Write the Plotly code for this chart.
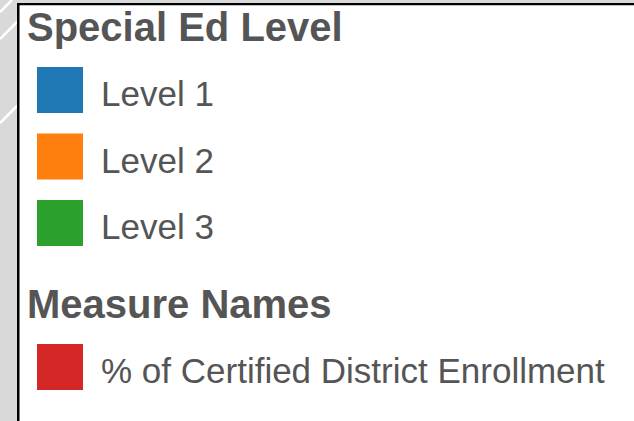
import plotly.graph_objects as go

# ---- legend content ----
legend_titles = ["Special Ed Level", "Measure Names"]
level_names = ["Level 1", "Level 2", "Level 3"]
level_colors = ["#1f77b4", "#ff7f0e", "#2ca02c"]
measure_names = ["% of Certified District Enrollment"]
measure_colors = ["#d62728"]

sections = [
    (legend_titles[0], level_names, level_colors),
    (legend_titles[1], measure_names, measure_colors),
]

W, H = 634, 421
TEXT = "#555555"
FONT = "Liberation Sans, Arial, sans-serif"

# layout constants (pixel units on hidden axes)
first_title_y = 27
title_to_item = 63
row_step = 66.5
section_gap = 81
swatch_x = 60
label_x = 99
title_x = 25
text_dy = 3.5

fig = go.Figure()
annotations = []

y = first_title_y
for title, names, colors in sections:
    annotations.append(dict(
        x=title_x, y=y, xref="x", yref="y", text=title, showarrow=False,
        xanchor="left", yanchor="middle",
        font=dict(family=FONT, size=40, color=TEXT, weight="bold")))
    ys = [y + title_to_item + row_step * i for i in range(len(names))]
    fig.add_trace(go.Scatter(
        x=[swatch_x] * len(names), y=ys, mode="markers",
        marker=dict(symbol="square", size=46, color=colors, line=dict(width=0)),
        hoverinfo="text", hovertext=names, showlegend=False))
    for n, yy in zip(names, ys):
        annotations.append(dict(
            x=label_x, y=yy + text_dy, xref="x", yref="y", text=n, showarrow=False,
            xanchor="left", yanchor="middle",
            font=dict(family=FONT, size=35, color=TEXT)))
    y = ys[-1] + section_gap

# background frame: gray strips, diagonal white stripes, black border
shapes = [
    dict(type="rect", xref="x", yref="y", x0=0, x1=17.5, y0=0, y1=H,
         fillcolor="#d9d9d9", line=dict(width=0), layer="below"),
    dict(type="rect", xref="x", yref="y", x0=0, x1=W, y0=0, y1=3.2,
         fillcolor="#d9d9d9", line=dict(width=0), layer="below"),
]
for c in [12, 39, 123]:
    shapes.append(dict(type="line", xref="x", yref="y", x0=0, y0=c, x1=min(c, 17.5), y1=c - min(c, 17.5),
                       line=dict(color="white", width=2.5), layer="below"))
shapes += [
    dict(type="rect", xref="x", yref="y", x0=17, x1=19.5, y0=3, y1=H,
         fillcolor="black", line=dict(width=0)),
    dict(type="rect", xref="x", yref="y", x0=17, x1=W, y0=3, y1=5.3,
         fillcolor="black", line=dict(width=0)),
]

fig.update_layout(
    width=W, height=H, margin=dict(l=0, r=0, t=0, b=0),
    paper_bgcolor="white", plot_bgcolor="white",
    xaxis=dict(range=[0, W], visible=False, fixedrange=True),
    yaxis=dict(range=[H, 0], visible=False, fixedrange=True),
    annotations=annotations, shapes=shapes, showlegend=False,
)

fig.write_html(
    "out.html",
    config={"displayModeBar": False},
    post_script="document.body.style.margin='0';document.body.style.overflow='hidden';",
)
